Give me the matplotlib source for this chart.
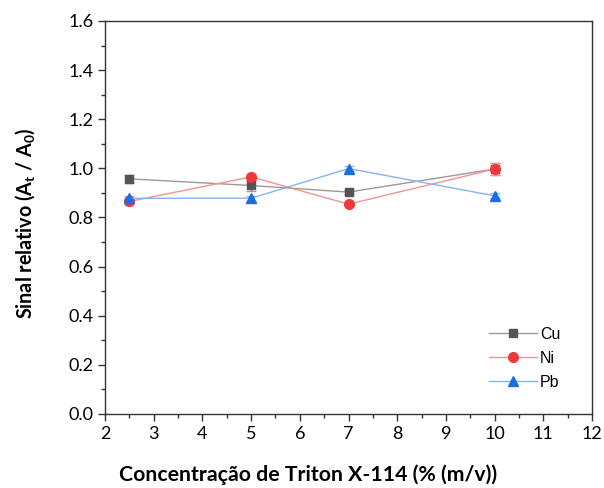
import matplotlib
matplotlib.use("Agg")
import matplotlib.pyplot as plt
from matplotlib.ticker import MultipleLocator, FormatStrFormatter

plt.rcParams['mathtext.fontset'] = 'custom'
plt.rcParams['mathtext.rm'] = 'Lato:bold'
plt.rcParams['mathtext.default'] = 'rm'

conc = [2.5, 5, 7, 10]
cu = [0.957, 0.930, 0.903, 0.997]
cu_err = [0.017, 0.022, 0.008, 0.025]
ni = [0.865, 0.965, 0.854, 0.997]
ni_err = [0.015, 0.010, 0.006, 0.025]
pb = [0.878, 0.878, 0.999, 0.888]
pb_err = [0.010, 0.010, 0.012, 0.010]

series = [
    ('Cu', cu, cu_err, 's', 6.0, '#555555', '#9a9a9a'),
    ('Ni', ni, ni_err, 'o', 7.0, '#f0383c', '#f59292'),
    ('Pb', pb, pb_err, '^', 7.5, '#1a6fe0', '#86b4f0'),
]

fig = plt.figure(figsize=(6.04, 4.88), dpi=100)
ax = fig.add_axes([0.174, 0.152, 0.806, 0.805])

for name, vals, err, mk, ms, col, lcol in series:
    ax.errorbar(conc, vals, yerr=err, fmt='none', ecolor=lcol, elinewidth=1,
                capsize=3.5, capthick=1, zorder=2)
    ax.plot(conc, vals, '-', color=lcol, lw=1, marker=mk, markersize=ms,
            markerfacecolor=col, markeredgecolor=col, label=name, zorder=3)

ax.set_xlim(2, 12)
ax.set_ylim(0, 1.6)
ax.xaxis.set_major_locator(MultipleLocator(1))
ax.xaxis.set_minor_locator(MultipleLocator(0.5))
ax.yaxis.set_major_locator(MultipleLocator(0.2))
ax.yaxis.set_minor_locator(MultipleLocator(0.1))
ax.yaxis.set_major_formatter(FormatStrFormatter('%.1f'))
ax.tick_params(which='major', direction='out', length=5, width=1, color='#333333',
               labelsize=13, top=False, right=False)
ax.tick_params(which='minor', direction='out', length=3, width=1, color='#333333',
               top=False, right=False)
for lab in ax.get_xticklabels() + ax.get_yticklabels():
    lab.set_family('Lato')
for sp in ax.spines.values():
    sp.set_color('#333333')
    sp.set_linewidth(1)

ax.set_xlabel('Concentração de Triton X-114 (% (m/v))', family='Lato',
              fontweight='bold', fontsize=15.3, va='center')
ax.xaxis.set_label_coords(0.417, -0.155)
ax.set_ylabel(r'Sinal relativo (A$_t$ / A$_0$)', family='Lato',
              fontweight='bold', fontsize=14.2, va='center')
ax.yaxis.set_label_coords(-0.164, 0.485)

leg = ax.legend(loc='lower right', bbox_to_anchor=(0.965, 0.025), frameon=False,
                prop={'family': 'Liberation Sans', 'size': 11.5},
                handlelength=3.0, labelspacing=0.55, handletextpad=0.2)

fig.savefig('out.png', dpi=100)
